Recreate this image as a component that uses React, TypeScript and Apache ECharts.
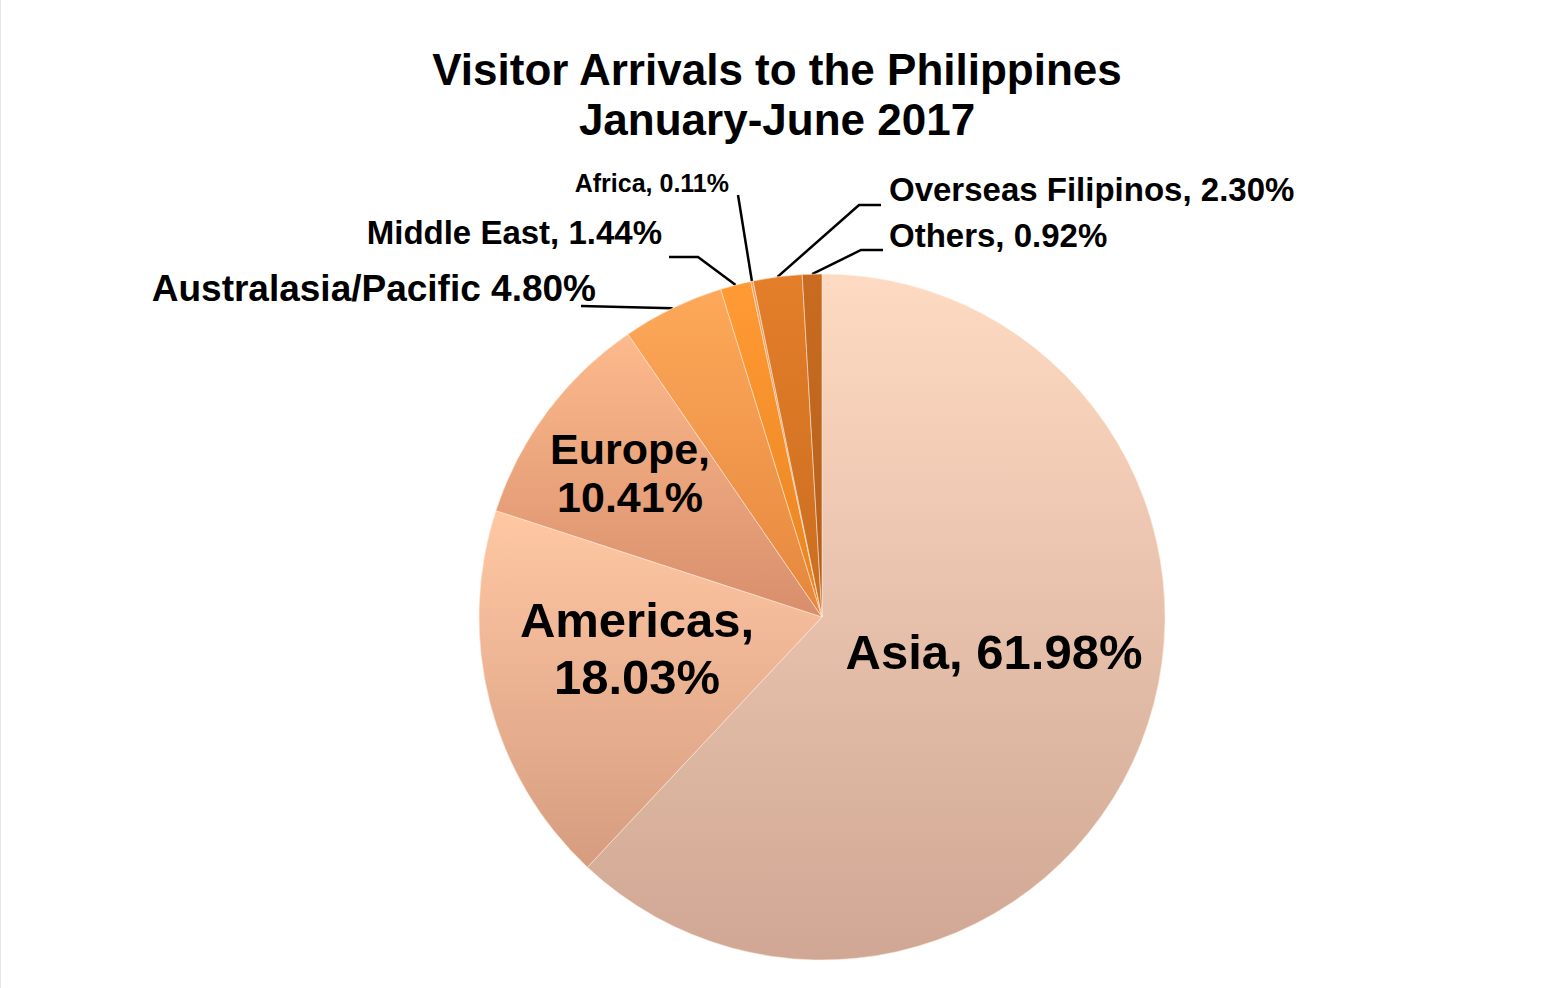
import React, { useEffect, useRef } from "react";
import * as echarts from "echarts";

const categories = [
  "Asia",
  "Americas",
  "Europe",
  "Australasia/Pacific",
  "Middle East",
  "Africa",
  "Overseas Filipinos",
  "Others",
];
const shares = [61.98, 18.03, 10.41, 4.8, 1.44, 0.11, 2.3, 0.92];
const labelTexts = [
  "Asia, 61.98%",
  "Americas,\n18.03%",
  "Europe,\n10.41%",
  "Australasia/Pacific 4.80%",
  "Middle East, 1.44%",
  "Africa, 0.11%",
  "Overseas Filipinos, 2.30%",
  "Others, 0.92%",
];
const topColors = ["#FFDAC2", "#FFC8A3", "#FDBA8C", "#FDA859", "#FF9A35", "#F0A060", "#E47E2A", "#C96C21"];
const bottomColors = ["#CFA794", "#D69C80", "#D88E6C", "#E5873E", "#E8841F", "#D88A50", "#C96D1F", "#B35E1A"];
const insideSlices = [0, 1, 2];
const labelSizes = [49, 49, 43, 37, 33, 25, 33, 33];
const labelLineHeights = [56, 57, 48, 40, 38, 28, 38, 38];

// label anchor positions (annotation placement)
const labelAnchors: { x: number; y: number; align: string; bend?: number[][] }[] = [
  { x: 993, y: 652, align: "center" },
  { x: 636, y: 648, align: "center" },
  { x: 629, y: 473, align: "center" },
  { x: 595, y: 288, align: "right", bend: [[580, 306]] },
  { x: 661, y: 232, align: "right", bend: [[697, 257], [668, 257]] },
  { x: 728, y: 183, align: "right", bend: [[737, 195]] },
  { x: 888, y: 189, align: "left", bend: [[858, 205], [880, 205]] },
  { x: 888, y: 235, align: "left", bend: [[860, 250], [882, 250]] },
];

const FONT = "Arial, 'Liberation Sans', Helvetica, sans-serif";

export default function App() {
  const ref = useRef<HTMLDivElement>(null);

  useEffect(() => {
    if (!ref.current) return;
    const chart = echarts.init(ref.current, null, { renderer: "svg" });

    const data = categories.map((name, i) => ({
      name,
      value: shares[i],
      itemStyle: {
        color: new echarts.graphic.LinearGradient(0, 0, 0, 1, [
          { offset: 0, color: topColors[i] },
          { offset: 1, color: bottomColors[i] },
        ]),
      },
      label: {
        show: true,
        position: insideSlices.includes(i) ? "inside" : "outside",
        formatter: labelTexts[i],
        fontSize: labelSizes[i],
        lineHeight: labelLineHeights[i],
        fontWeight: "bold",
        fontFamily: FONT,
        color: "#000000",
        align: labelAnchors[i].align,
      },
      labelLine: {
        show: !insideSlices.includes(i),
        lineStyle: { color: "#000000", width: 2.5 },
        length: 20,
        length2: 20,
      },
    }));

    chart.setOption({
      animation: false,
      backgroundColor: "#ffffff",
      title: {
        text: "Visitor Arrivals to the Philippines\nJanuary-June 2017",
        left: 771,
        top: 39,
        textAlign: "center",
        textStyle: {
          fontFamily: FONT,
          fontSize: 44,
          fontWeight: "bold",
          lineHeight: 50,
          color: "#000000",
        },
      },
      series: [
        {
          type: "pie",
          center: [821, 617],
          radius: 343,
          startAngle: 90,
          clockwise: true,
          avoidLabelOverlap: false,
          silent: true,
          itemStyle: {
            borderColor: "rgba(255,235,220,0.55)",
            borderWidth: 1,
          },
          labelLayout: (params: any) => {
            const a = labelAnchors[params.dataIndex];
            const res: any = {
              x: a.x,
              y: a.y,
              align: a.align,
              verticalAlign: "middle",
            };
            if (a.bend && params.labelLinePoints && params.labelLinePoints.length) {
              const start = params.labelLinePoints[0];
              const pts = [start, ...a.bend];
              if (pts.length < 3) pts.push(a.bend[a.bend.length - 1]);
              res.labelLinePoints = pts;
            }
            return res;
          },
          data,
        },
      ],
    });

    return () => {
      chart.dispose();
    };
  }, []);

  return (
    <div
      ref={ref}
      style={{
        position: "absolute",
        left: 0,
        top: 0,
        width: 1546,
        height: 988,
        background: "#ffffff",
        boxSizing: "border-box",
        borderLeft: "1px solid #E8E8E8",
      }}
    />
  );
}
